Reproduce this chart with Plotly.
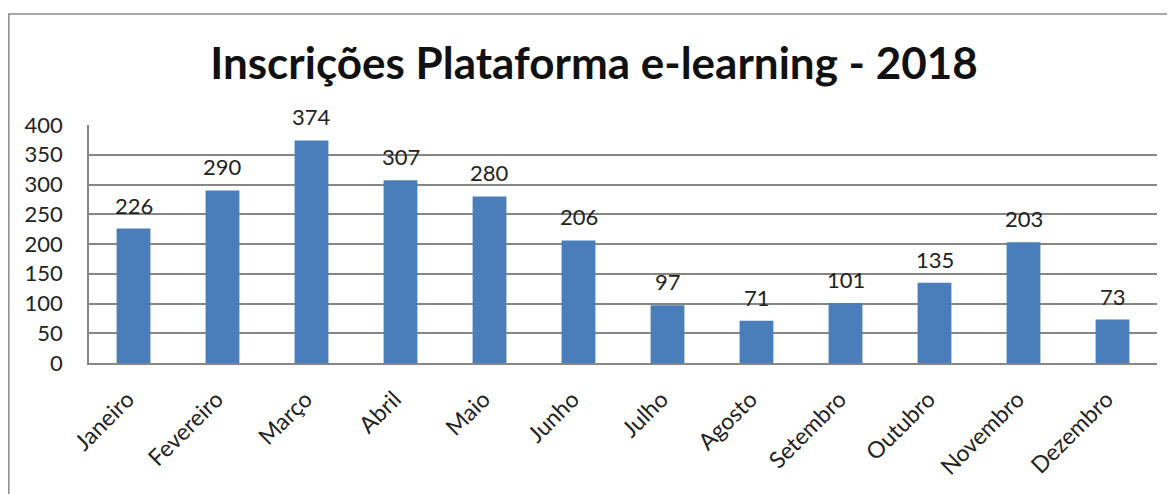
import plotly.graph_objects as go

months = ["Janeiro", "Fevereiro", "Março", "Abril", "Maio", "Junho",
          "Julho", "Agosto", "Setembro", "Outubro", "Novembro", "Dezembro"]
inscricoes = [226, 290, 374, 307, 280, 206, 97, 71, 101, 135, 203, 73]
y_ticks = [0, 50, 100, 150, 200, 250, 300, 350, 400]
title_text = "Inscrições Plataforma e-learning - 2018"

OFF = 8  # page body margin
W, H = 1175 - OFF, 494 - OFF
L, T = 89 - OFF, 125 - OFF
R = W - (1157 - OFF)
B = H - (363 - OFF)
pw, ph = W - L - R, H - T - B

FONT = "Lato"
BAR = "#4a7ebb"
GRID = "#868686"

fig = go.Figure()
fig.add_trace(go.Bar(
    x=months, y=inscricoes, marker=dict(color=BAR, line=dict(width=0)),
    width=0.38, hoverinfo="x+y",
))

for m, v in zip(months, inscricoes):
    fig.add_annotation(x=m, y=v, text=str(v), showarrow=False,
                       yanchor="bottom", yshift=8,
                       font=dict(family=FONT, size=22, color="#222222"))

# chart outer border (top and left visible)
fig.add_shape(type="rect", xref="paper", yref="paper",
              x0=(0.8 - L) / pw, x1=(W + 20 - L) / pw,
              y0=(H - B - (H + 20)) / ph, y1=(H - B - (14 - OFF)) / ph,
              line=dict(color="#8c8c8c", width=1.5), fillcolor="rgba(0,0,0,0)",
              layer="below")

fig.update_layout(
    width=W, height=H,
    margin=dict(l=L, r=R, t=T, b=B, pad=0),
    paper_bgcolor="white", plot_bgcolor="white",
    showlegend=False,
    bargap=0.62,
    title=dict(text="<b>" + title_text + "</b>", x=(594 - OFF) / W, xanchor="center",
               y=1 - (64 - OFF) / H, yanchor="middle",
               font=dict(family=FONT, size=44, color="#111111")),
    font=dict(family=FONT, color="#222222"),
    xaxis=dict(
        tickangle=-45, tickfont=dict(family=FONT, size=23, color="#222222"),
        showline=True, linecolor=GRID, linewidth=1.5,
        showgrid=False, ticks="", ticklabelstandoff=12, ticklabelshift=-6,
    ),
    yaxis=dict(
        range=[0, 400], tickvals=y_ticks,
        tickfont=dict(family=FONT, size=22, color="#222222"),
        showline=True, linecolor=GRID, linewidth=1.5,
        showgrid=True, gridcolor=GRID, gridwidth=1.5,
        ticks="", ticklabelstandoff=20, zeroline=False,
    ),
)

fig.write_html("out.html")
